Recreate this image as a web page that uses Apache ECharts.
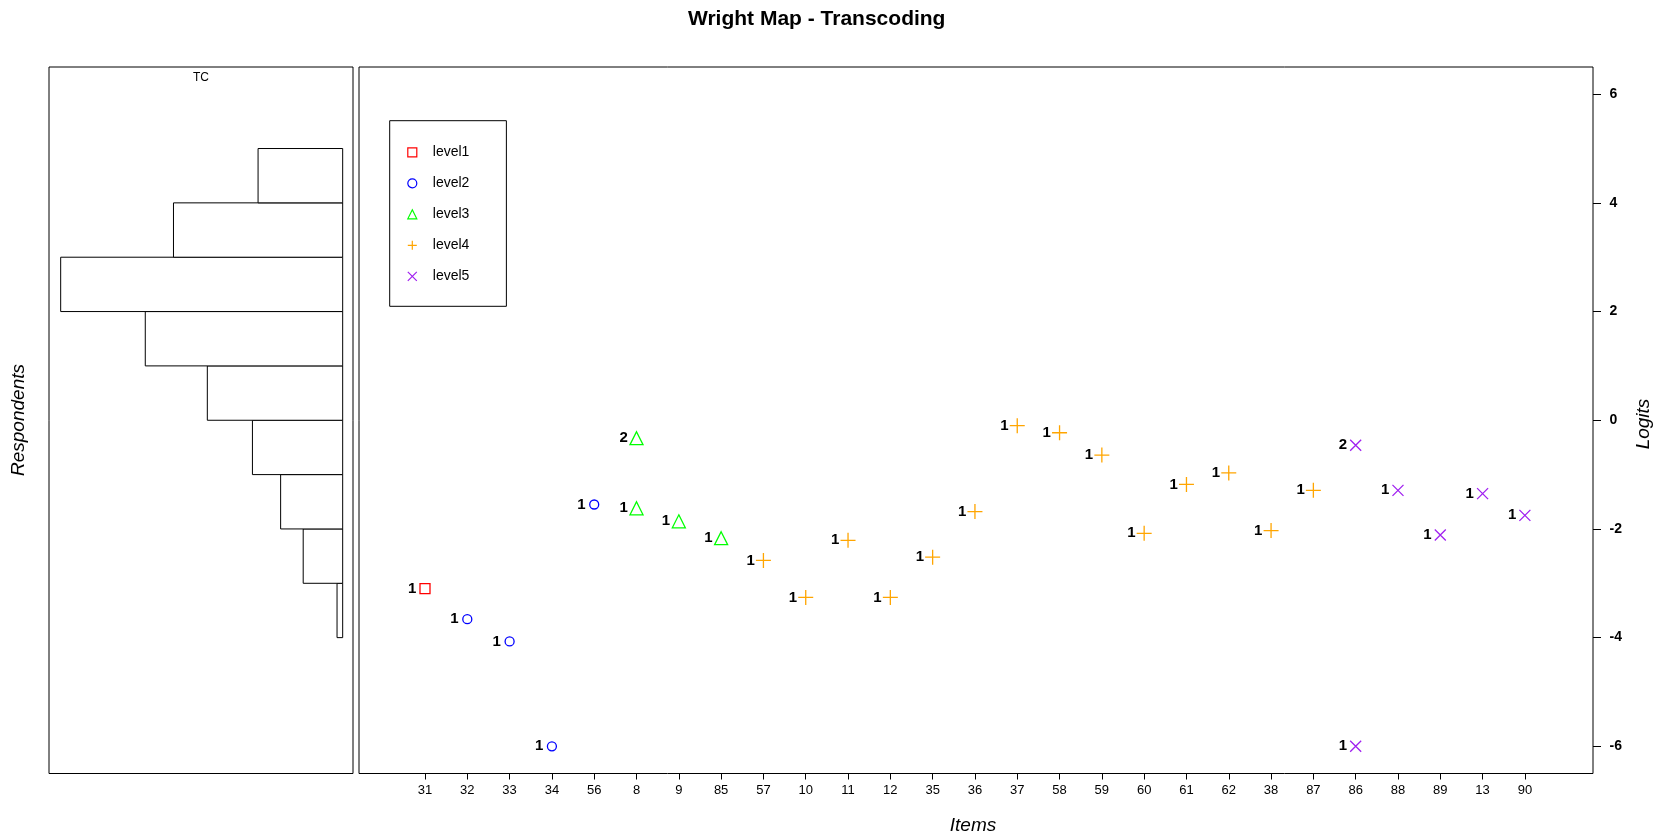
<!DOCTYPE html>
<html><head><meta charset="utf-8">
<script src="https://cdn.jsdelivr.net/npm/echarts@6/dist/echarts.min.js"></script>
<style>html,body{margin:0;padding:0;background:#fff}#c{width:1660px;height:840px}</style>
</head><body><div id="c"></div>
<script>
// ---- data ----
const itemLabels = ['31','32','33','34','56','8','9','85','57','10','11','12','35','36','37','58','59','60','61','62','38','87','86','88','89','13','90'];
const logitTicks = [-6, -4, -2, 0, 2, 4, 6];
const binLower  = [-4, -3, -2, -1, 0, 1, 2, 3, 4];
const binUpper  = [-3, -2, -1, 0, 1, 2, 3, 4, 5];
const binCounts = [1, 7, 11, 16, 24, 35, 50, 30, 15];
const levelNames = ['level1', 'level2', 'level3', 'level4', 'level5'];

const level1Items  = ['31'];
const level1Logits = [-3.10];
const level1Counts = [1];

const level2Items  = ['32', '33', '34', '56'];
const level2Logits = [-3.66, -4.07, -6.00, -1.55];
const level2Counts = [1, 1, 1, 1];

const level3Items  = ['8', '8', '9', '85'];
const level3Logits = [-0.33, -1.62, -1.86, -2.17];
const level3Counts = [2, 1, 1, 1];

const level4Items  = ['57','10','11','12','35','36','37','58','59','60','61','62','38','87'];
const level4Logits = [-2.58, -3.26, -2.21, -3.26, -2.52, -1.68, -0.10, -0.23, -0.64, -2.08, -1.18, -0.97, -2.03, -1.29];
const level4Counts = [1,1,1,1,1,1,1,1,1,1,1,1,1,1];

const level5Items  = ['86', '86', '88', '89', '13', '90'];
const level5Logits = [-0.46, -6.00, -1.29, -2.11, -1.35, -1.75];
const level5Counts = [2, 1, 1, 1, 1, 1];

// ---- chart ----
const FONT = '"Liberation Sans", Arial, sans-serif';
const itemPositions = itemLabels.map((_, i) => i + 1);
const LABEL_GAP = 8;

function levelSeries(name, items, logits, counts, symbol, size, color) {
  return {
    name: name, type: 'scatter', xAxisIndex: 1, yAxisIndex: 1,
    symbol: symbol, symbolSize: size, symbolKeepAspect: true,
    itemStyle: { color: 'rgba(0,0,0,0)', borderColor: color, borderWidth: 1.3, opacity: 1 },
    label: {
      show: true, position: 'left', distance: LABEL_GAP - size / 2,
      formatter: p => String(p.value[2]),
      color: '#000', fontWeight: 'bold', fontSize: 15, fontFamily: FONT
    },
    emphasis: { disabled: true },
    data: items.map((it, i) => [itemLabels.indexOf(it) + 1, logits[i], counts[i]])
  };
}

const PLUS = 'path://M0,5L10,5M5,0L5,10';
const CROSS = 'path://M0,0L10,10M0,10L10,0';

const option = {
  animation: false,
  backgroundColor: '#fff',
  title: {
    text: 'Wright Map - Transcoding', left: 688, top: 9, padding: 0,
    textStyle: { fontFamily: FONT, fontSize: 21, fontWeight: 'bold', color: '#000' }
  },
  grid: [
    { left: 49, top: 67, width: 304, height: 706.5, show: true, borderColor: '#000', borderWidth: 1, backgroundColor: 'transparent', containLabel: false, outerBoundsMode: 'none' },
    { left: 359, top: 67, width: 1234, height: 706.5, show: true, borderColor: '#000', borderWidth: 1, backgroundColor: 'transparent', containLabel: false, outerBoundsMode: 'none' }
  ],
  xAxis: [
    { gridIndex: 0, type: 'value', inverse: true, min: -1.83, max: 52.07, show: false },
    { gridIndex: 1, type: 'value', position: 'bottom', min: -0.56, max: 28.61,
      axisLine: { show: false, onZero: false },
      splitLine: { show: false },
      axisTick: { show: true, inside: false, customValues: itemPositions, length: 6, lineStyle: { color: '#000', width: 1 } },
      axisLabel: { show: true, customValues: itemPositions, margin: 10, fontSize: 13, color: '#000', fontFamily: FONT,
        formatter: v => itemLabels[Math.round(v) - 1] }
    }
  ],
  yAxis: [
    { gridIndex: 0, type: 'value', min: -6.5, max: 6.5, show: false },
    { gridIndex: 1, type: 'value', position: 'right', min: -6.5, max: 6.5,
      axisLine: { show: false, onZero: false },
      splitLine: { show: false },
      axisTick: { show: true, inside: false, customValues: logitTicks, length: 8, lineStyle: { color: '#000', width: 1 } },
      axisLabel: { show: true, customValues: logitTicks, margin: 16.5, align: 'left', fontSize: 14, fontWeight: 'bold', color: '#000', fontFamily: FONT }
    }
  ],
  legend: {
    data: levelNames, orient: 'vertical', left: 389.7, top: 120.7,
    itemWidth: 9, itemHeight: 9, itemGap: 17,
    padding: [24.6, 37, 23, 17.5],
    borderColor: '#000', borderWidth: 1, backgroundColor: '#fff',
    selectedMode: false, symbolKeepAspect: true,
    itemStyle: { color: 'inherit', borderColor: 'inherit', borderWidth: 1.2 },
    textStyle: { fontSize: 14, color: '#000', fontFamily: FONT, padding: [0, 0, 0, 11] }
  },
  graphic: [
    { type: 'text', x: 201, y: 78, style: { text: 'TC', font: '12px ' + FONT, fill: '#000', textAlign: 'center', textVerticalAlign: 'middle' } },
    { type: 'text', x: 19, y: 420, rotation: Math.PI / 2, style: { text: 'Respondents', font: 'italic 19px ' + FONT, fill: '#000', textAlign: 'center', textVerticalAlign: 'middle' } },
    { type: 'text', x: 973, y: 826, style: { text: 'Items', font: 'italic 19px ' + FONT, fill: '#000', textAlign: 'center', textVerticalAlign: 'middle' } },
    { type: 'text', x: 1644, y: 424, rotation: Math.PI / 2, style: { text: 'Logits', font: 'italic 19px ' + FONT, fill: '#000', textAlign: 'center', textVerticalAlign: 'middle' } }
  ],
  series: [
    {
      type: 'custom', xAxisIndex: 0, yAxisIndex: 0, clip: false,
      encode: { x: 2, y: [0, 1] },
      data: binLower.map((lo, i) => [lo, binUpper[i], binCounts[i]]),
      renderItem: function (params, api) {
        const pTop = api.coord([api.value(2), api.value(1)]);
        const pBot = api.coord([0, api.value(0)]);
        return {
          type: 'rect',
          shape: { x: Math.min(pTop[0], pBot[0]), y: pTop[1], width: Math.abs(pBot[0] - pTop[0]), height: pBot[1] - pTop[1] },
          style: { fill: '#fff', stroke: '#000', lineWidth: 1 }
        };
      },
      silent: true
    },
    levelSeries('level1', level1Items, level1Logits, level1Counts, 'rect', 10, '#FF0000'),
    levelSeries('level2', level2Items, level2Logits, level2Counts, 'circle', 9, '#0000FF'),
    levelSeries('level3', level3Items, level3Logits, level3Counts, 'triangle', 13, '#00FF00'),
    levelSeries('level4', level4Items, level4Logits, level4Counts, PLUS, 15, '#FFA500'),
    levelSeries('level5', level5Items, level5Logits, level5Counts, CROSS, 11, '#A020F0')
  ]
};

const chart = echarts.init(document.getElementById('c'), null, { renderer: 'canvas' });
chart.setOption(option);
</script>
</body></html>
